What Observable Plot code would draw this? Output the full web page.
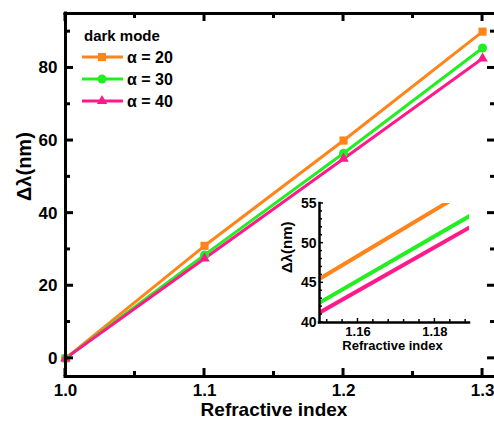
<!DOCTYPE html>
<html><head><meta charset="utf-8">
<script src="https://cdn.jsdelivr.net/npm/d3@7"></script>
<script src="https://cdn.jsdelivr.net/npm/@observablehq/plot@0.6"></script>
<style>
html,body{margin:0;padding:0;overflow:hidden;background:#fff;}
#wrap{position:relative;width:494px;height:423px;}
#wrap > svg{position:absolute;}
</style></head><body><div id="wrap"></div>
<script>
const refractiveIndex = [1.0, 1.1, 1.2, 1.3];
const alpha20 = [0, 31, 60, 90];
const alpha30 = [0, 28.5, 56.5, 85.5];
const alpha40 = [0, 27.5, 55, 82.6];
const seriesNames = ["α = 20", "α = 30", "α = 40"];
const seriesColors = ["#ff8419", "#22ee22", "#ff1a8c"];
const seriesSymbols = ["square", "circle", "triangle"];
const seriesR = [4.6, 4.5, 3.9];
const legendTitle = "dark mode";
const xTicksMajor = [1.0, 1.1, 1.2, 1.3];
const xTicksMinor = [1.05, 1.15, 1.25];
const yTicksMajor = [0, 20, 40, 60, 80];
const yTicksMinor = [10, 30, 50, 70, 90];
const insetXTicksMajor = [1.16, 1.18];
const insetXTicksMinor = [1.152, 1.156, 1.164, 1.168, 1.172, 1.176, 1.184, 1.188];
const insetYTicksMajor = [40, 45, 50, 55];
const insetYTicksMinor = [41, 42, 43, 44, 46, 47, 48, 49, 51, 52, 53, 54];
const xLabel = "Refractive index";
const yLabel = "Δλ(nm)";

const seriesValues = [alpha20, alpha30, alpha40];
const rows = seriesNames.map((name, i) =>
  refractiveIndex.map((n, j) => ({series: name, n, v: seriesValues[i][j]})));

const font = "'Liberation Sans', Arial, sans-serif";

const M = {width: 494, height: 423, marginLeft: 65, marginRight: 0, marginTop: 13, marginBottom: 47};
const mxDom = [1.0, 1.3086], myDom = [-5, 95];
const mainTickSides = [
  ["bottom", xTicksMajor, 8], ["bottom", xTicksMinor, 5],
  ["top", xTicksMajor, 8], ["top", xTicksMinor, 5],
  ["left", yTicksMajor, 8], ["left", yTicksMinor, 5],
  ["right", yTicksMajor, 7], ["right", yTicksMinor, 4]];

const mainMarks = [];
rows.forEach((r, i) => {
  mainMarks.push(Plot.line(r, {x: "n", y: "v", stroke: seriesColors[i], strokeWidth: 3}));
});
rows.forEach((r, i) => {
  mainMarks.push(Plot.dot(r, {x: "n", y: "v", symbol: () => seriesSymbols[i], r: seriesR[i], fill: seriesColors[i], stroke: "none"}));
});
mainMarks.push(
  Plot.axisX(xTicksMajor, {anchor: "bottom", tickSize: 0, tickPadding: 7, tickFormat: d3.format(".1f"),
    fontSize: 17, fontWeight: "bold", label: null}),
  Plot.axisY(yTicksMajor, {anchor: "left", tickSize: 0, tickPadding: 8, fontSize: 17, fontWeight: "bold", label: null}),
  Plot.text([xLabel], {text: d => d, frameAnchor: "bottom", dx: -6, dy: 39, fontSize: 19, fontWeight: "bold"}),
  Plot.text([yLabel], {text: d => d, frameAnchor: "left", dx: -41, dy: 6, rotate: -90, fontSize: 20, fontWeight: "bold"}),
  Plot.ruleX([mxDom[0]], {stroke: "black", strokeWidth: 3, strokeLinecap: "square"}),
  Plot.ruleY(myDom, {stroke: "black", strokeWidth: 3, strokeLinecap: "square"})
);

const main = Plot.plot({
  ...M,
  x: {domain: mxDom}, y: {domain: myDom},
  style: {fontFamily: font, background: "transparent", color: "black"},
  marks: mainMarks
});

// inset: its own small svg placed over the lower right of the main frame
const I = {width: 224, height: 170, marginLeft: 49, marginRight: 25, marginTop: 13, marginBottom: 38};
const ixDom = [1.15, 1.189], iyDom = [40, 55];
const insetTickSides = [
  ["bottom", insetXTicksMajor, 4], ["bottom", insetXTicksMinor, 3],
  ["left", insetYTicksMajor, 4], ["left", insetYTicksMinor, 3]];

const insetMarks = [];
rows.forEach((r, i) => {
  insetMarks.push(Plot.line(r, {x: "n", y: "v", stroke: seriesColors[i], strokeWidth: 4, clip: true}));
});
insetMarks.push(
  Plot.axisX(insetXTicksMajor, {anchor: "bottom", tickSize: 0, tickPadding: 4, tickFormat: d3.format(".2f"),
    fontSize: 13, fontWeight: "bold", label: null}),
  Plot.axisY(insetYTicksMajor, {anchor: "left", tickSize: 0, tickPadding: 3, fontSize: 14, fontWeight: "bold", label: null}),
  Plot.text([xLabel], {text: d => d, frameAnchor: "bottom", dx: -2, dy: 27, fontSize: 13, fontWeight: "bold"}),
  Plot.text([yLabel], {text: d => d, frameAnchor: "left", dx: -32, dy: 10, rotate: -90, fontSize: 15, fontWeight: "bold"}),
  Plot.ruleX([ixDom[0]], {stroke: "black", strokeWidth: 2.5, strokeLinecap: "square"}),
  Plot.ruleY([iyDom[0]], {stroke: "black", strokeWidth: 2.5, strokeLinecap: "square"})
);

const inset = Plot.plot({
  ...I,
  x: {domain: ixDom}, y: {domain: iyDom},
  style: {fontFamily: font, background: "transparent", color: "black"},
  marks: insetMarks
});

const wrap = document.getElementById("wrap");
inset.style.left = "270px"; inset.style.top = "190px";
wrap.appendChild(inset);

// legend
const leg = d3.select(wrap).append("svg").attr("width", 200).attr("height", 115)
  .style("left", "0px").style("top", "0px")
  .style("font-family", font).style("pointer-events", "none");
leg.append("text").attr("x", 84).attr("y", 41).attr("font-size", 15).attr("font-weight", "bold").text(legendTitle);
seriesNames.forEach((name, i) => {
  const y = 57 + i * 22;
  const g = leg.append("g");
  g.append("line").attr("x1", 82).attr("x2", 123).attr("y1", y).attr("y2", y)
    .attr("stroke", seriesColors[i]).attr("stroke-width", 3);
  const sym = {square: d3.symbolSquare, circle: d3.symbolCircle, triangle: d3.symbolTriangle}[seriesSymbols[i]];
  g.append("path").attr("transform", `translate(102,${y})`)
    .attr("d", d3.symbol(sym, Math.PI * seriesR[i] * seriesR[i])()).attr("fill", seriesColors[i]);
  g.append("text").attr("x", 127).attr("y", y + 6).attr("font-size", 16).attr("font-weight", "bold").text(name);
});

main.style.left = "0px"; main.style.top = "0px";
wrap.appendChild(main);

// inward frame ticks, positioned through each chart's own Plot scales, drawn on top
try {
  const ov = d3.select(wrap).append("svg").attr("width", 494).attr("height", 423)
    .style("left", "0px").style("top", "0px").style("pointer-events", "none");
  const sc = (chart, name) => {
    const s = chart.scale(name);
    return s.apply ? (v => s.apply(v)) : d3.scaleLinear(s.domain, s.range);
  };
  function drawTicks(chart, ox, oy, xDom, yDom, sides, sw) {
    const sx = sc(chart, "x"), sy = sc(chart, "y");
    const g = ov.append("g").attr("transform", `translate(${ox},${oy})`)
      .attr("stroke", "black").attr("stroke-width", sw);
    for (const [side, values, len] of sides) {
      for (const v of values) {
        let x1, x2, y1, y2;
        if (side === "bottom") { x1 = x2 = sx(v); y1 = sy(yDom[0]); y2 = y1 - len; }
        if (side === "top") { x1 = x2 = sx(v); y1 = sy(yDom[1]); y2 = y1 + len; }
        if (side === "left") { y1 = y2 = sy(v); x1 = sx(xDom[0]); x2 = x1 + len; }
        if (side === "right") { y1 = y2 = sy(v); x1 = sx(xDom[1]); x2 = x1 - len; }
        g.append("line").attr("x1", x1).attr("x2", x2).attr("y1", y1).attr("y2", y2);
      }
    }
  }
  drawTicks(main, 0, 0, mxDom, myDom, mainTickSides, 3);
  drawTicks(inset, 270, 190, ixDom, iyDom, insetTickSides, 1.5);
} catch (e) {}
</script></body></html>
